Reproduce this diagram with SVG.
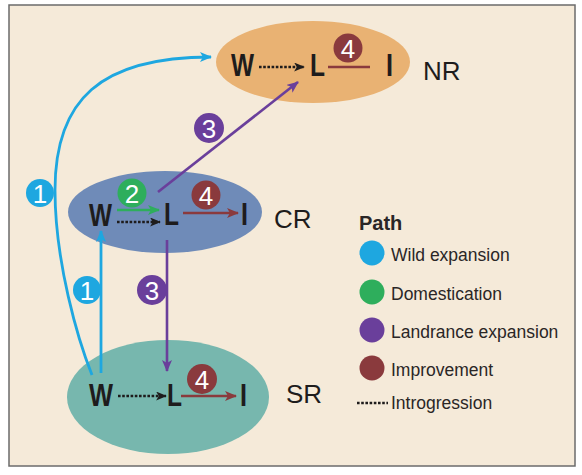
<svg xmlns="http://www.w3.org/2000/svg" width="582" height="475" viewBox="0 0 582 475">
<defs>
<style>
.lt{font-family:"Liberation Sans",Arial,sans-serif;font-weight:bold;font-size:31px;fill:#1e1c1c}
.rg{font-family:"Liberation Sans",Arial,sans-serif;font-size:26px;fill:#1e1c1c}
.num{font-family:"Liberation Sans",Arial,sans-serif;font-size:26px;fill:#ffffff;text-anchor:middle}
.lg{font-family:"Liberation Sans",Arial,sans-serif;font-size:17.5px;fill:#2a2626}
.dot{stroke:#1e1c1c;stroke-width:2.5;stroke-dasharray:2.6 1.6;fill:none}
.blue{stroke:#1EA7E0;stroke-width:2.8;fill:none}
.purple{stroke:#6A3F9B;stroke-width:2.6;fill:none}
.red{stroke:#8A3A3D;stroke-width:2.6;fill:none}
.green{stroke:#2EAE5C;stroke-width:2.6;fill:none}
</style>
<marker id="ab" viewBox="0 0 12 10" refX="11" refY="5" markerWidth="13" markerHeight="10" markerUnits="userSpaceOnUse" orient="auto"><path d="M0,0 L12,5 L0,10 L3,5 z" fill="#1EA7E0"/></marker>
<marker id="ap" viewBox="0 0 12 10" refX="11" refY="5" markerWidth="12" markerHeight="10" markerUnits="userSpaceOnUse" orient="auto"><path d="M0,0 L12,5 L0,10 L3,5 z" fill="#6A3F9B"/></marker>
<marker id="ar" viewBox="0 0 12 10" refX="11" refY="5" markerWidth="12" markerHeight="10" markerUnits="userSpaceOnUse" orient="auto"><path d="M0,0 L12,5 L0,10 L3,5 z" fill="#8A3A3D"/></marker>
<marker id="ag" viewBox="0 0 12 10" refX="11" refY="5" markerWidth="12" markerHeight="10" markerUnits="userSpaceOnUse" orient="auto"><path d="M0,0 L12,5 L0,10 L3,5 z" fill="#2EAE5C"/></marker>
<marker id="ak" viewBox="0 0 12 10" refX="11" refY="5" markerWidth="11" markerHeight="9" markerUnits="userSpaceOnUse" orient="auto"><path d="M0,0 L12,5 L0,10 L3,5 z" fill="#1e1c1c"/></marker>
</defs>
<rect x="9" y="5" width="566" height="461" fill="#F5EAD9" stroke="#6b6b6b" stroke-width="1.5"/>

<g id="NR">
<ellipse cx="313" cy="62" rx="97" ry="41" fill="#E9B273"/>
<text class="lt" x="231" y="76" textLength="23" lengthAdjust="spacingAndGlyphs">W</text>
<text class="lt" x="310" y="76" textLength="15" lengthAdjust="spacingAndGlyphs">L</text>
<text class="lt" x="386" y="76" textLength="7" lengthAdjust="spacingAndGlyphs">I</text>
<text class="rg" x="423" y="80">NR</text>
</g>

<g id="CR">
<ellipse cx="165" cy="212" rx="97" ry="41" fill="#6F8BB8"/>
<text class="lt" x="89" y="226" textLength="23" lengthAdjust="spacingAndGlyphs">W</text>
<text class="lt" x="164" y="225" textLength="15" lengthAdjust="spacingAndGlyphs">L</text>
<text class="lt" x="241" y="225" textLength="7" lengthAdjust="spacingAndGlyphs">I</text>
<text class="rg" x="274" y="228">CR</text>
</g>

<g id="SR">
<ellipse cx="168" cy="397" rx="101" ry="57" fill="#77B7AE"/>
<text class="lt" x="89" y="406" textLength="24" lengthAdjust="spacingAndGlyphs">W</text>
<text class="lt" x="167" y="406" textLength="15" lengthAdjust="spacingAndGlyphs">L</text>
<text class="lt" x="240" y="406" textLength="7" lengthAdjust="spacingAndGlyphs">I</text>
<text class="rg" x="286" y="403">SR</text>
</g>

<g id="connectors">
<line class="dot" x1="259" y1="67" x2="304" y2="67" marker-end="url(#ak)"/>
<line class="red" x1="328" y1="67" x2="370" y2="67"/>
<line class="green" x1="117" y1="210" x2="159" y2="210" marker-end="url(#ag)"/>
<line class="dot" x1="117" y1="222" x2="160" y2="222" marker-end="url(#ak)"/>
<line class="red" x1="183" y1="213" x2="238" y2="213" marker-end="url(#ar)"/>
<line class="dot" x1="118" y1="396" x2="166" y2="396" marker-end="url(#ak)"/>
<line class="red" x1="181" y1="396" x2="236" y2="396" marker-end="url(#ar)"/>
<line class="purple" x1="158" y1="192" x2="298" y2="82" marker-end="url(#ap)"/>
<line class="purple" x1="167" y1="240" x2="167" y2="371" marker-end="url(#ap)"/>
<line class="blue" x1="101" y1="373" x2="101" y2="231" marker-end="url(#ab)"/>
<path class="blue" d="M92,375 C78,340 55,262 55,190 C55,100 100,57 211,57" marker-end="url(#ab)"/>
</g>

<g id="labels">
<circle cx="348" cy="48" r="14.5" fill="#8A3A3D"/><text class="num" x="348" y="57.5">4</text>
<circle cx="209" cy="128" r="15" fill="#6A3F9B"/><text class="num" x="209" y="137.5">3</text>
<circle cx="132" cy="193" r="14.5" fill="#2EAE5C"/><text class="num" x="132" y="202.5">2</text>
<circle cx="206" cy="195" r="14.5" fill="#8A3A3D"/><text class="num" x="206" y="204.5">4</text>
<circle cx="40" cy="193" r="14" fill="#1EA7E0"/><text class="num" x="40" y="202.5">1</text>
<circle cx="87" cy="290" r="14" fill="#1EA7E0"/><text class="num" x="87" y="299.5">1</text>
<circle cx="152" cy="290" r="15" fill="#6A3F9B"/><text class="num" x="152" y="299.5">3</text>
<circle cx="202" cy="379" r="15" fill="#8A3A3D"/><text class="num" x="202" y="388.5">4</text>
</g>

<g id="legend">
<text class="lg" x="359" y="230" style="font-weight:bold;font-size:20px">Path</text>
<circle cx="372" cy="253" r="12.5" fill="#1EA7E0"/><text class="lg" x="391" y="261">Wild expansion</text>
<circle cx="372" cy="292" r="12.5" fill="#2EAE5C"/><text class="lg" x="391" y="300">Domestication</text>
<circle cx="372" cy="330" r="12.5" fill="#6A3F9B"/><text class="lg" x="391" y="338">Landrance expansion</text>
<circle cx="372" cy="368" r="12.5" fill="#8A3A3D"/><text class="lg" x="391" y="376">Improvement</text>
<line class="dot" x1="357" y1="403" x2="388" y2="403"/><text class="lg" x="391" y="409">Introgression</text>
</g>
</svg>
